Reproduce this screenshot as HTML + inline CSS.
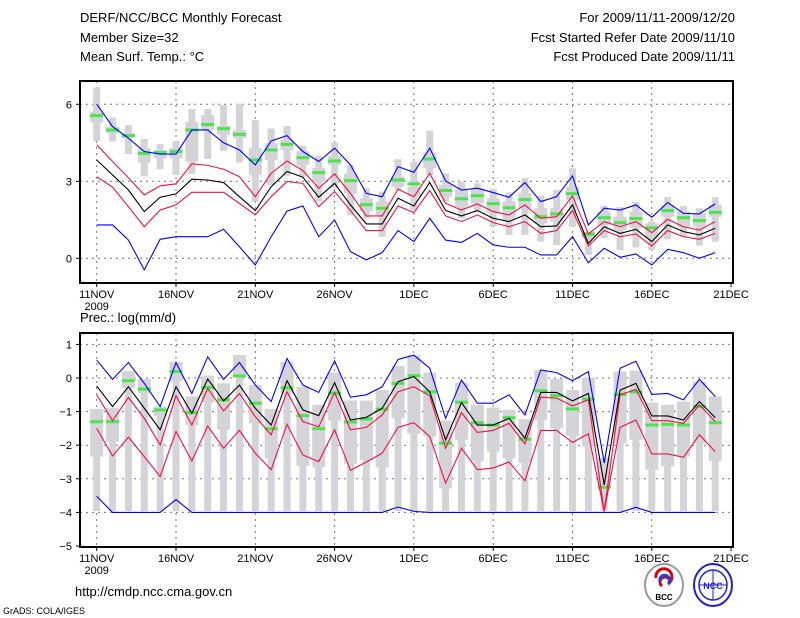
<!DOCTYPE html>
<html><head><meta charset="utf-8"><style>
html,body{margin:0;padding:0;background:#fff;width:800px;height:618px;overflow:hidden}
svg{display:block}
text{font-family:"Liberation Sans",sans-serif;fill:#000}
</style></head><body>
<svg id="chart" width="800" height="618" viewBox="0 0 800 618" xmlns="http://www.w3.org/2000/svg">
<g font-size="13">
<text x="80" y="22">DERF/NCC/BCC Monthly Forecast</text>
<text x="80" y="42">Member Size=32</text>
<text x="80" y="61">Mean Surf. Temp.: °C</text>
<text x="735" y="22" text-anchor="end">For 2009/11/11-2009/12/20</text>
<text x="735" y="42" text-anchor="end">Fcst Started Refer Date 2009/11/10</text>
<text x="735" y="61" text-anchor="end">Fcst Produced Date 2009/11/11</text>
<text x="80" y="322">Prec.: log(mm/d)</text>
<text x="75" y="596">http://cmdp.ncc.cma.gov.cn</text>
<text x="3" y="614" font-size="9">GrADS: COLA/IGES</text>
</g>
<g id="top"></g>
<g id="bot"></g>
<g>
<ellipse cx="664" cy="585" rx="19" ry="21" fill="#fff" stroke="#999" stroke-width="2"/>
<path d="M656 578 a8 8 0 1 1 14 4 a5 5 0 1 0 -8 4" fill="none" stroke="#d01" stroke-width="3"/>
<path d="M660 582 a5 5 0 1 1 8 2" fill="none" stroke="#24c" stroke-width="3"/>
<text x="664" y="600" font-size="8" text-anchor="middle" font-weight="bold">BCC</text>
</g>
<g>
<ellipse cx="713" cy="585" rx="19" ry="21" fill="#fff" stroke="#22c" stroke-width="2"/>
<ellipse cx="713" cy="585" rx="14" ry="15" fill="none" stroke="#22c" stroke-width="1.5"/>
<line x1="699" y1="585" x2="727" y2="585" stroke="#22c"/>
<line x1="713" y1="570" x2="713" y2="600" stroke="#22c"/>
<text x="713" y="589" font-size="9" text-anchor="middle" fill="#22c" font-weight="bold" style="fill:#22c">NCC</text>
</g>
</svg>
<script>
// ---- Top panel (temperature) data ----
const days = [...Array(40).keys()];
const dateTicks = ["11NOV","16NOV","21NOV","26NOV","1DEC","6DEC","11DEC","16DEC","21DEC"];
const tTicks = [0,3,6];
const tBlueHi = [6.01,5.13,4.68,4.16,4.06,4.06,5.0,5.0,4.5,4.22,3.64,4.57,4.78,4.16,3.77,4.29,3.64,2.53,2.4,3.57,3.35,4.29,3.01,2.66,2.73,2.56,2.38,2.95,2.21,2.4,3.21,1.3,1.95,1.88,2.08,1.6,2.17,1.75,1.73,2.12];
const tRedHi = [4.42,3.77,3.14,2.47,2.82,2.9,3.68,3.62,3.47,3.18,2.4,3.31,3.79,3.42,2.73,3.29,2.53,1.65,1.65,2.69,2.4,3.31,2.14,1.88,2.12,1.82,1.69,2.08,1.56,1.62,2.43,0.95,1.43,1.23,1.43,1.0,1.52,1.23,1.1,1.43];
const tMean = [3.83,3.25,2.66,1.82,2.38,2.51,3.08,3.05,2.95,2.4,1.86,2.79,3.38,3.16,2.38,2.92,2.08,1.34,1.34,2.34,2.04,2.95,1.86,1.65,1.86,1.56,1.43,1.69,1.23,1.26,2.08,0.58,1.23,0.97,1.13,0.65,1.3,1.04,0.91,1.17];
const tRedLo = [3.18,2.77,2.01,1.23,1.88,2.08,2.57,2.57,2.57,2.14,1.69,2.4,2.99,2.92,2.01,2.6,1.86,1.08,1.08,2.04,1.78,2.64,1.65,1.43,1.69,1.39,1.23,1.43,0.97,1.08,1.86,0.48,1.08,0.84,0.95,0.48,1.08,0.84,0.74,0.97];
const tBlueLo = [1.3,1.3,0.71,-0.45,0.74,0.84,0.84,0.84,1.13,0.45,-0.26,0.84,1.84,2.04,0.84,1.49,0.26,-0.06,0.22,1.08,0.65,1.56,0.71,0.62,0.97,0.52,0.43,0.43,0.13,0.13,0.84,-0.17,0.39,0.04,0.17,-0.26,0.35,0.22,0.0,0.22];
const tObs = [5.56,5.0,4.78,4.09,4.12,4.16,5.0,5.21,5.05,4.83,3.83,4.22,4.44,3.92,3.34,3.79,3.03,2.09,1.95,3.05,2.9,3.87,2.64,2.32,2.44,2.13,1.97,2.29,1.62,1.73,2.52,0.94,1.58,1.39,1.55,1.19,1.86,1.58,1.47,1.79];
const tMax = [6.66,5.48,5.19,4.65,4.45,4.57,5.82,5.82,5.97,6.01,5.39,5.06,5.16,4.38,3.99,4.51,3.64,2.73,2.6,3.86,3.77,4.97,3.31,2.99,2.92,2.71,2.57,3.12,2.44,2.66,3.51,1.04,2.04,1.99,2.19,1.43,2.38,2.03,1.95,2.38];
const tMin = [4.57,4.55,4.06,3.21,3.47,3.25,3.29,3.87,4.19,3.73,2.21,2.86,3.21,3.18,2.21,2.73,1.69,1.56,0.84,2.66,1.88,3.25,2.21,1.56,1.82,1.23,0.91,0.91,0.65,0.52,1.23,0.13,0.78,0.32,0.42,0.32,0.74,0.84,0.49,0.65];
const tQ3 = [5.71,5.13,4.87,4.29,4.22,4.29,5.32,5.58,5.16,5.0,4.29,4.48,4.61,4.16,3.51,3.99,3.31,2.34,2.21,3.18,2.79,4.12,2.86,2.66,2.73,2.34,2.21,2.53,1.95,1.95,2.79,1.04,1.82,1.62,1.82,1.36,2.08,1.82,1.75,2.08];
const tQ1 = [5.29,4.87,4.68,3.73,3.9,3.9,3.77,5.0,4.81,4.68,3.25,3.83,4.22,3.64,2.99,3.64,2.53,1.82,1.69,2.79,2.4,3.51,2.4,2.01,2.14,1.75,1.49,1.95,1.36,1.43,2.27,0.78,1.3,1.1,1.17,0.78,1.62,1.23,1.23,1.62];
// ---- Bottom panel (precipitation) data ----
const pTicks = [1,0,-1,-2,-3,-4,-5];
const pBlueHi = [0.53,-0.04,0.46,-0.16,-0.85,0.46,-0.46,0.63,-0.04,0.46,-0.21,-0.7,0.58,-0.21,-0.43,0.51,-0.57,-0.5,-0.26,0.55,0.68,0.29,-1.2,-0.06,-0.75,-0.75,-0.5,-1.1,0.24,0.16,-0.08,0.19,-2.53,0.29,0.5,-0.49,-0.46,-0.65,-0.04,-0.55];
const pMean = [-0.24,-0.85,-0.26,-0.9,-1.54,-0.26,-1.05,-0.03,-0.68,-0.21,-0.9,-1.4,-0.08,-0.95,-1.12,-0.14,-1.25,-1.17,-0.9,-0.11,0.04,-0.41,-1.84,-0.73,-1.4,-1.4,-1.2,-1.79,-0.43,-0.43,-0.68,-0.46,-3.18,-0.36,-0.16,-1.13,-1.13,-1.25,-0.7,-1.18];
const pRedHi = [-0.5,-1.27,-0.58,-1.2,-1.99,-0.53,-1.4,-0.31,-0.98,-0.46,-1.15,-1.69,-0.41,-1.3,-1.45,-0.43,-1.54,-1.47,-1.1,-0.41,-0.26,-0.53,-2.09,-1.03,-1.62,-1.56,-1.35,-1.96,-0.57,-0.6,-0.83,-0.65,-3.97,-0.5,-0.34,-1.27,-1.27,-1.35,-0.8,-1.3];
const pRedLo = [-1.5,-2.32,-1.76,-2.34,-2.93,-1.59,-2.47,-1.43,-2.09,-1.56,-2.24,-2.73,-1.38,-2.29,-2.49,-1.54,-2.75,-2.5,-2.24,-1.47,-1.33,-1.74,-3.13,-2.09,-2.73,-2.68,-2.5,-3.06,-1.56,-1.56,-1.92,-1.66,-3.97,-1.47,-1.25,-2.26,-2.26,-2.36,-1.69,-2.19];
const pBlueLo = [-3.52,-4,-4,-4,-4,-3.62,-4,-4,-4,-4,-4,-4,-4,-4,-4,-4,-4,-4,-4,-3.84,-3.97,-4,-4,-4,-4,-4,-4,-4,-4,-4,-4,-4,-4,-4,-3.85,-4,-4,-4,-4,-4];
const pObs = [-1.3,-1.3,-0.08,-0.33,-0.95,0.19,-1.03,-0.28,-0.65,0.06,-0.75,-1.51,-0.29,-1.12,-1.51,-0.45,-1.31,-1.22,-0.93,-0.16,0.07,-0.41,-1.94,-0.72,-1.33,-1.4,-1.18,-1.82,-0.38,-0.52,-0.92,-0.63,-3.25,-0.49,-0.41,-1.4,-1.38,-1.4,-0.85,-1.33];
const pMax = [-0.92,-0.9,0.2,-0.03,-0.85,0.48,-0.55,0.07,-0.16,0.68,-0.21,-0.92,0.48,-0.26,-0.8,0.16,-0.67,-0.67,-0.36,0.36,0.68,0.16,-1.27,-0.14,-0.8,-0.88,-0.95,-1.23,0.24,-0.03,-0.36,0.01,-2.39,0.19,0.22,-0.73,-0.8,-0.7,-0.11,-0.55];
const pQ1 = [-2.34,-1.89,-0.3,-0.45,-1.13,-0.1,-1.4,-0.73,-1.54,0.04,-1.35,-2.39,-0.45,-2.61,-2.66,-1.27,-2.55,-2.44,-2.66,-1.2,-1.66,-1.74,-3.28,-1.84,-2.48,-2.19,-2.39,-2.53,-1.25,-1.49,-1.72,-2.04,-3.28,-1.94,-1.84,-2.73,-2.63,-2.34,-1.94,-2.47];
const pMinAll = -3.96;

const NS = "http://www.w3.org/2000/svg";
const xOf = d => 96.7 + 15.86 * d;
const yTop = v => 258.3 - 25.67 * v;
const yBot = v => 378 - 33.6 * v;
function mk(tag, attrs, parent){ const e=document.createElementNS(NS,tag); for(const k in attrs) e.setAttribute(k,attrs[k]); parent.appendChild(e); return e; }

function panel(g, top, bottom, yf, ticks, tickFmt){
  // grid
  for (let i=0;i<8;i++){
    const x=xOf(i*5);
    const l=mk('line',{x1:x,x2:x,y1:top,y2:bottom,stroke:'#777','stroke-dasharray':'2,4','stroke-width':1},g);
    
    
  }
  ticks.forEach(v=>{
    const y=yf(v);
    if (y>top+1 && y<bottom-1){
      const l=mk('line',{x1:80,x2:733,y1:y,y2:y,stroke:'#777','stroke-dasharray':'2,4','stroke-width':1},g);
      
      
    }
    const tk=mk('line',{x1:76,x2:80,y1:y,y2:y,stroke:'#000'},g);
    
    
    const t=mk('text',{x:72,y:y+4,'text-anchor':'end','font-size':11},g);
    t.textContent=tickFmt(v);
    
    
  });
  dateTicks.forEach((s,i)=>{
    const x=xOf(i*5);
    const tk=mk('line',{x1:x,x2:x,y1:bottom,y2:bottom+4,stroke:'#000'},g);
    
    
    const t=mk('text',{x:x,y:bottom+15,'text-anchor':'middle','font-size':11},g);
    t.textContent=s;
    
    
  });
  const yr=mk('text',{x:xOf(0),y:bottom+27,'text-anchor':'middle','font-size':11},g);
  yr.textContent='2009';
  
  
}
function boxes(g, yf, mx, mn, q3, q1){
  days.forEach(d=>{
    const x=xOf(d);
    const lo = Array.isArray(mn)? mn[d] : mn;
    const a=mk('rect',{x:x-3.5,width:7,y:yf(mx[d]),height:Math.max(1,yf(lo)-yf(mx[d])),fill:'#d3d3d8'},g);
    
    
    const b=mk('rect',{x:x-6.5,width:13,y:yf(q3[d]),height:Math.max(1,yf(q1[d])-yf(q3[d])),fill:'#d3d3d8'},g);
    
    
  });
}
function line(g, yf, vals, color, name){
  const p=mk('polyline',{points:vals.map((v,d)=>xOf(d)+','+yf(v)).join(' '),fill:'none',stroke:color,'stroke-width':1.1},g);
  
  
}
function marks(g, yf, vals){
  vals.forEach((v,d)=>{
    const r=mk('rect',{x:xOf(d)-6.5,width:13,y:yf(v)-1.5,height:3,fill:'#4ce44c'},g);
    
    
  });
}
function frame(g, top, bottom){
  const f=mk('rect',{x:80,y:top,width:653,height:bottom-top,fill:'none',stroke:'#000','stroke-width':2},g);
  
  
}

const gt=document.getElementById('top');
panel(gt,81,283,yTop,tTicks,v=>String(v));
boxes(gt,yTop,tMax,tMin,tQ3,tQ1);
marks(gt,yTop,tObs);
line(gt,yTop,tBlueHi,'#0000ff','max-line');
line(gt,yTop,tRedHi,'#ee1144','upper-red-line');
line(gt,yTop,tMean,'#000000','ensemble-mean-line');
line(gt,yTop,tRedLo,'#ee1144','lower-red-line');
line(gt,yTop,tBlueLo,'#0000ff','min-line');
frame(gt,81,283);

const gb=document.getElementById('bot');
panel(gb,333,547,yBot,pTicks,v=>v<0?'\u2212'+(-v):String(v));
boxes(gb,yBot,pMax,pMinAll,pMax,pQ1);
marks(gb,yBot,pObs);
line(gb,yBot,pBlueHi,'#0000ff','max-line');
line(gb,yBot,pRedHi,'#ee1144','upper-red-line');
line(gb,yBot,pMean,'#000000','ensemble-mean-line');
line(gb,yBot,pRedLo,'#ee1144','lower-red-line');
line(gb,yBot,pBlueLo,'#0000ff','min-line');
frame(gb,333,547);
</script>
</body></html>
